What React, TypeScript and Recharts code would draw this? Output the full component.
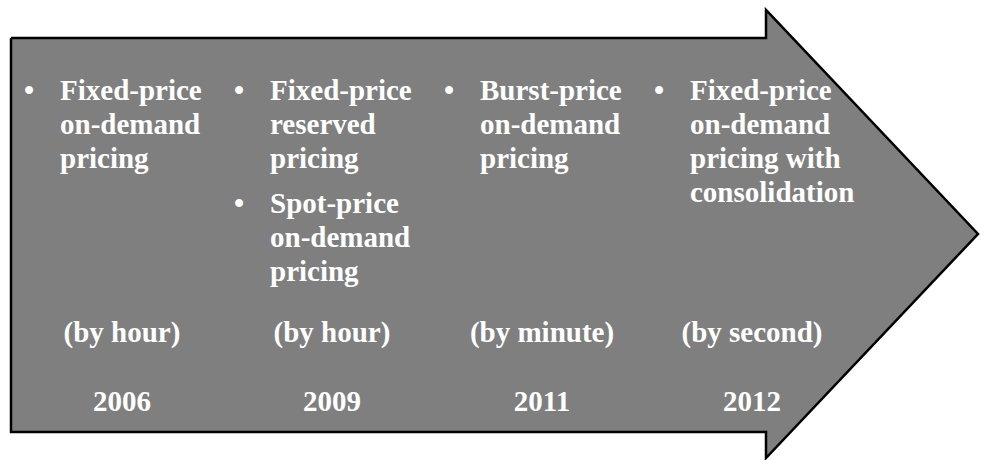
import { ComposedChart, Scatter, XAxis, YAxis } from 'recharts'

// timeline content, one entry per column
const years = ['2006', '2009', '2011', '2012']
const units = ['(by hour)', '(by hour)', '(by minute)', '(by second)']
const offerings: string[][][] = [
  [['Fixed-price', 'on-demand', 'pricing']],
  [
    ['Fixed-price', 'reserved', 'pricing'],
    ['Spot-price', 'on-demand', 'pricing'],
  ],
  [['Burst-price', 'on-demand', 'pricing']],
  [['Fixed-price', 'on-demand', 'pricing with', 'consolidation']],
]

const WIDTH = 981
const HEIGHT = 460
const FONT = '"Liberation Serif", "Times New Roman", serif'

// arrow outline in canvas units (same as pixels here)
const arrowOutline = [
  { x: 11, y: 38 },
  { x: 766, y: 38 },
  { x: 766, y: 10 },
  { x: 978, y: 234 },
  { x: 766, y: 458 },
  { x: 766, y: 432 },
  { x: 11, y: 432 },
  { x: 11, y: 38 },
]

// text layout relative to the column centre
const FIRST_BASELINE = 100
const LINE = 34
const BULLET_GAP = 11
const BULLET_DX = -93
const TEXT_DX = -62
const UNIT_BASELINE = 342
const YEAR_BASELINE = 411

type Column = { idx: number; row: number; year: string; unit: string; items: string[][] }

const columns: Column[] = years.map((year, idx) => ({
  idx,
  row: 0,
  year,
  unit: units[idx],
  items: offerings[idx],
}))

const textStyle = { fill: '#ffffff', fontFamily: FONT, fontWeight: 700, fontSize: 29 }

function ColumnText(props: any) {
  const { cx, cy, payload } = props
  let y = cy + FIRST_BASELINE
  const blocks = (payload.items as string[][]).map((lines, k) => {
    const start = y
    y += lines.length * LINE + BULLET_GAP
    return (
      <g key={k}>
        <text x={cx + BULLET_DX} y={start} textAnchor="middle" {...textStyle}>
          •
        </text>
        <text x={cx + TEXT_DX} y={start} {...textStyle}>
          {lines.map((l, i) => (
            <tspan key={i} x={cx + TEXT_DX} dy={i === 0 ? 0 : LINE}>
              {l}
            </tspan>
          ))}
        </text>
      </g>
    )
  })
  return (
    <g>
      {blocks}
      <text x={cx} y={cy + UNIT_BASELINE} textAnchor="middle" {...textStyle}>
        {payload.unit}
      </text>
      <text x={cx} y={cy + YEAR_BASELINE} textAnchor="middle" {...textStyle}>
        {payload.year}
      </text>
    </g>
  )
}

export default function App() {
  return (
    <div style={{ position: 'absolute', left: 0, top: 0, background: '#fff' }}>
      <ComposedChart width={WIDTH} height={HEIGHT} margin={{ top: 0, right: 0, bottom: 0, left: 0 }}>
        <XAxis xAxisId="canvas" type="number" dataKey="x" domain={[0, WIDTH]} allowDataOverflow hide />
        <XAxis
          xAxisId="col"
          type="number"
          dataKey="idx"
          domain={[-0.5, 3.5]}
          padding={{ left: 17, right: 124 }}
          allowDataOverflow
          hide
        />
        <YAxis yAxisId="canvas" type="number" dataKey="y" domain={[0, HEIGHT]} reversed allowDataOverflow hide />
        <Scatter
          xAxisId="canvas"
          yAxisId="canvas"
          data={arrowOutline}
          dataKey="y"
          fill="#7f7f7f"
          line={{ fill: '#7f7f7f', stroke: '#000000', strokeWidth: 2.5, strokeLinejoin: 'miter' }}
          shape={() => <g />}
          isAnimationActive={false}
        />
        <Scatter
          xAxisId="col"
          yAxisId="canvas"
          data={columns}
          dataKey="row"
          shape={ColumnText}
          isAnimationActive={false}
        />
      </ComposedChart>
    </div>
  )
}
